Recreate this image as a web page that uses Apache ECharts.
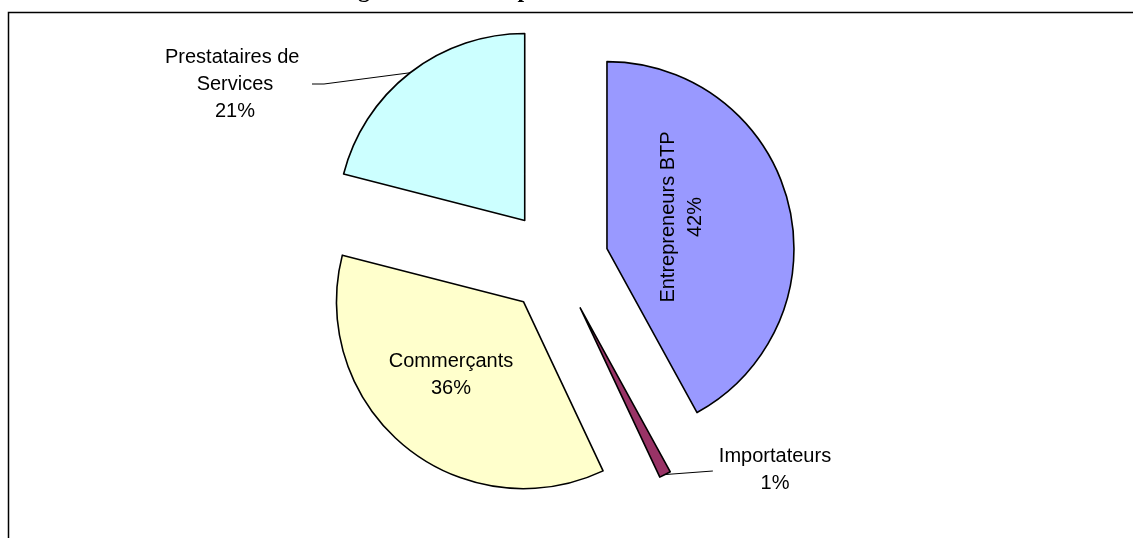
<!DOCTYPE html>
<html>
<head>
<meta charset="utf-8">
<script src="https://cdn.jsdelivr.net/npm/echarts@6/dist/echarts.min.js"></script>
<style>
html,body{margin:0;padding:0;background:#fff;}
#chart{width:1133px;height:538px;}
</style>
</head>
<body>
<div id="chart"></div>
<script>
// ---- data ----
const categories = ['Entrepreneurs BTP', 'Importateurs', 'Commerçants', 'Prestataires de Services'];
const values = [42, 1, 36, 21];
const titleText = 'Catégories des entreprises';

// ---- layout / style ----
const CX = 556.6, CY = 261.6, R = 187, OFF = 52;
const palette = ['#9999FF', '#993366', '#FFFFCC', '#CCFFFF'];
const FONT = 'Liberation Sans, Arial, sans-serif';

const total = values.reduce((a, b) => a + b, 0);
// clock angle (deg from top, clockwise) of a slice's middle
function midAngle(i) {
  let acc = 0;
  for (let k = 0; k < i; k++) acc += values[k];
  return (acc + values[i] / 2) / total * 360;
}
// exploded centre of slice i
function sliceCenter(i) {
  const a = midAngle(i) * Math.PI / 180;
  return [CX + OFF * Math.sin(a), CY - OFF * Math.cos(a)];
}
function arcMid(i) {
  const a = midAngle(i) * Math.PI / 180;
  return [CX + (R + OFF) * Math.sin(a), CY - (R + OFF) * Math.cos(a)];
}

const labelPlace = {
  0: { x: 682, y: 217, rotate: 90 },
  1: { x: 775, y: 470, line: true, side: 'left' },
  2: { x: 451, y: 375 },
  3: { x: 235, y: 84, line: true, side: 'right' }
};

const chart = echarts.init(document.getElementById('chart'), null, { renderer: 'canvas' });

function makeSeries(i) {
  const cfg = labelPlace[i];
  const data = categories.map((c, k) => {
    const own = k === i;
    const item = {
      name: c,
      value: values[k],
      itemStyle: own
        ? { color: palette[k], borderColor: '#000', borderWidth: 1.6 }
        : { color: 'rgba(0,0,0,0)', borderWidth: 0 },
      label: { show: own },
      labelLine: { show: own && !!cfg.line }
    };
    if (own && k === 0) item.label.rotate = 90;
    if (own && k === 3) { item.label.width = 150; item.label.overflow = 'break'; }
    if (own) item.label.position = cfg.line ? 'outside' : 'inside';
    return item;
  });
  return {
    type: 'pie',
    name: categories[i],
    center: sliceCenter(i),
    radius: [0, R],
    startAngle: 90,
    clockwise: true,
    silent: true,
    avoidLabelOverlap: false,
    emphasis: { disabled: true },
    label: {
      color: '#000',
      fontFamily: FONT,
      fontSize: 20,
      lineHeight: 27,
      align: 'center',
      formatter: p => p.name + '\n' + Math.round(p.percent) + '%'
    },
    labelLine: { lineStyle: { color: '#000', width: 1 } },
    labelLayout: params => {
      if (params.dataIndex !== i) return {};
      const out = { x: cfg.x, y: cfg.y, align: 'center', verticalAlign: 'middle' };
      if (cfg.rotate != null) out.rotate = cfg.rotate;
      if (cfg.line) {
        const p0 = arcMid(i);
        const w = params.labelRect.width;
        if (cfg.side === 'right') {
          const ex = cfg.x + w / 2 + 2;
          out.labelLinePoints = [p0, [ex + 12, cfg.y], [ex, cfg.y]];
        } else {
          const ex = cfg.x - w / 2 - 6;
          out.labelLinePoints = [p0, [ex, cfg.y + 1], [ex, cfg.y + 1]];
        }
      }
      return out;
    },
    data: data
  };
}

const option = {
  animation: false,
  graphic: [
    {
      type: 'rect',
      shape: { x: 8.5, y: 12.5, width: 1300, height: 700 },
      style: { fill: 'none', stroke: '#000', lineWidth: 1.5 },
      silent: true
    },
    {
      type: 'text',
      x: 310, y: -9,
      style: {
        text: titleText,
        font: 'bold 24px "Liberation Serif", "Times New Roman", serif',
        fill: '#000',
        textAlign: 'left',
        textVerticalAlign: 'middle'
      },
      silent: true
    }
  ],
  series: categories.map((c, i) => makeSeries(i))
};

chart.setOption(option);
</script>
</body>
</html>
